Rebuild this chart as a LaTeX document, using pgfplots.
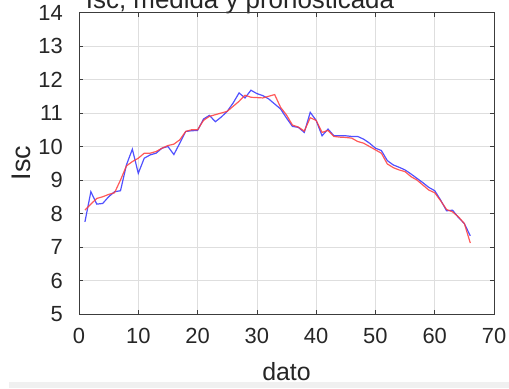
\documentclass[border=0pt]{standalone}
\usepackage{pgfplots}
\pgfplotsset{compat=1.18}
\usepackage{fontspec}
\setmainfont{Liberation Sans}
\definecolor{axgray}{RGB}{60,60,60}
\definecolor{gridgray}{RGB}{222,222,222}
\definecolor{mblue}{RGB}{50,50,255}
\definecolor{mred}{RGB}{255,60,60}
\definecolor{bandgray}{RGB}{240,240,240}
\begin{document}
\begin{tikzpicture}[x=1bp,y=1bp]
\useasboundingbox (0,0) rectangle (509,388);
\fill[bandgray] (9,0) rectangle (509,6);
\begin{scope}
\clip (0,0) rectangle (509,388);
\node[anchor=base, font=\fontsize{26}{30}\selectfont, text=black!85] at (240,380) {Isc, medida y pronosticada};
\end{scope}
\begin{axis}[
  at={(79bp,74bp)}, anchor=south west,
  scale only axis, width=415bp, height=301.5bp,
  xmin=0, xmax=70, ymin=5, ymax=14,
  xtick={0,10,...,70}, ytick={5,6,...,14},
  tick align=inside, major tick length=4bp,
  axis line style={axgray, line width=0.7bp},
  every tick/.style={axgray, line width=0.7bp},
  grid=major, major grid style={gridgray, line width=0.7bp},
  /pgf/number format/assume math mode=true,
  tick label style={font=\fontsize{22}{24}\selectfont, text=black!85},
  xticklabel style={inner sep=0pt, anchor=north, yshift=-14bp},
  yticklabel style={inner sep=0pt, anchor=east, xshift=-16bp},
  xlabel={dato}, ylabel={Isc},
  label style={font=\fontsize{25}{28}\selectfont, text=black!85},
  xlabel style={at={(axis description cs:0.5,-0.219)}, anchor=base},
  ylabel style={at={(axis description cs:-0.118,0.5)}, anchor=base, font=\fontsize{27}{30}\selectfont},
]
\addplot[mblue, line width=1.2bp, opacity=0.85] coordinates {
(1,7.75)(2,8.65)(3,8.28)(4,8.3)(5,8.5)(6,8.65)(7,8.68)(8,9.45)(9,9.92)(10,9.2)
(11,9.65)(12,9.75)(13,9.8)(14,9.95)(15,10.0)(16,9.76)(17,10.1)(18,10.45)(19,10.47)(20,10.48)
(21,10.82)(22,10.93)(23,10.74)(24,10.88)(25,11.05)(26,11.3)(27,11.6)(28,11.45)(29,11.68)(30,11.58)
(31,11.52)(32,11.42)(33,11.27)(34,11.12)(35,10.85)(36,10.6)(37,10.57)(38,10.42)(39,11.02)(40,10.78)
(41,10.32)(42,10.52)(43,10.32)(44,10.32)(45,10.32)(46,10.3)(47,10.3)(48,10.22)(49,10.1)(50,9.95)
(51,9.88)(52,9.58)(53,9.45)(54,9.38)(55,9.3)(56,9.18)(57,9.05)(58,8.92)(59,8.78)(60,8.68)
(61,8.4)(62,8.08)(63,8.1)(64,7.88)(65,7.7)(66,7.33)
};
\addplot[mred, line width=1.2bp, opacity=0.85] coordinates {
(1,8.1)(2,8.28)(3,8.45)(4,8.5)(5,8.57)(6,8.62)(7,9.0)(8,9.42)(9,9.55)(10,9.65)
(11,9.8)(12,9.8)(13,9.85)(14,9.95)(15,10.03)(16,10.07)(17,10.2)(18,10.45)(19,10.5)(20,10.5)
(21,10.78)(22,10.9)(23,10.95)(24,11.0)(25,11.05)(26,11.2)(27,11.35)(28,11.53)(29,11.47)(30,11.46)
(31,11.45)(32,11.5)(33,11.55)(34,11.17)(35,10.94)(36,10.64)(37,10.58)(38,10.46)(39,10.86)(40,10.78)
(41,10.42)(42,10.48)(43,10.3)(44,10.28)(45,10.27)(46,10.25)(47,10.15)(48,10.1)(49,10.0)(50,9.9)
(51,9.8)(52,9.48)(53,9.37)(54,9.3)(55,9.25)(56,9.1)(57,9.0)(58,8.85)(59,8.7)(60,8.62)
(61,8.38)(62,8.12)(63,8.05)(64,7.9)(65,7.7)(66,7.12)
};
\end{axis}
\end{tikzpicture}
\end{document}
